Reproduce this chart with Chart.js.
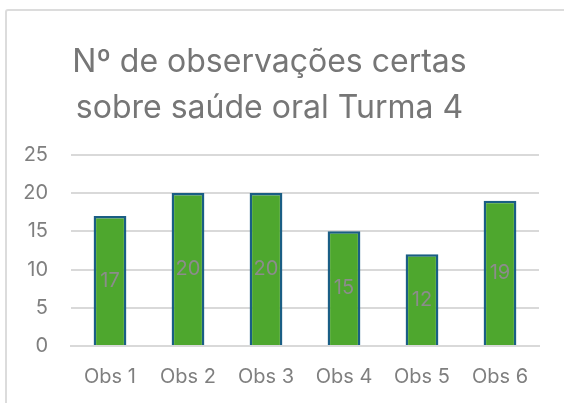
<!DOCTYPE html>
<html>
<head>
<meta charset="utf-8">
<script src="https://cdn.jsdelivr.net/npm/chart.js@4"></script>
<style>
    body { margin: 0; background: #fff; }
    #wrap { position: relative; width: 564px; height: 403px; overflow: hidden; }
    #frame { position: absolute; left: 5px; top: 9px; width: 600px; height: 440px; border: 2px solid #dcdcdc; border-radius: 3px; }
    #chart { position: absolute; left: 0; top: 0; }
</style>
</head>
<body>
<div id="wrap">
    <div id="frame"></div>
    <canvas id="chart" width="564" height="403"></canvas>
</div>
<script>
// chart data
const titleLines = ['Nº de observações certas', 'sobre saúde oral Turma 4'];
const categories = ['Obs 1', 'Obs 2', 'Obs 3', 'Obs 4', 'Obs 5', 'Obs 6'];
const values = [17, 20, 20, 15, 12, 19];
const yTicks = [0, 5, 10, 15, 20, 25];

const fontFamily = 'Inter, "Open Sans", sans-serif';

// draws the value in the middle of each bar
const barLabels = {
    id: 'barLabels',
    afterDatasetsDraw(chart) {
        let ctx = chart.ctx;
        let meta = chart.getDatasetMeta(0);
        ctx.save();
        ctx.font = '20px ' + fontFamily;
        ctx.fillStyle = '#8c8c8c';
        ctx.textAlign = 'center';
        ctx.textBaseline = 'middle';
        meta.data.forEach((bar, i) => {
            let mid = (bar.y + bar.base) / 2;
            ctx.fillText(values[i], bar.x, mid);
        });
        ctx.restore();
    }
};

new Chart(document.getElementById('chart'), {
    type: 'bar',
    data: {
        labels: categories,
        datasets: [{
            data: values,
            backgroundColor: '#4ea72e',
            borderColor: '#1a5e84',
            borderWidth: 2.5,
            barPercentage: 0.42,
            categoryPercentage: 1
        }]
    },
    options: {
        responsive: false,
        animation: false,
        layout: {
            padding: {left: 0, right: 25, top: 0, bottom: 0}
        },
        plugins: {
            legend: {display: false},
            tooltip: {enabled: false},
            title: {
                display: true,
                text: titleLines,
                color: '#767676',
                font: {family: fontFamily, size: 32, weight: 'normal', lineHeight: 1.45},
                padding: {top: 39, bottom: 23}
            }
        },
        scales: {
            x: {
                afterFit(scale) {
                    scale.height = 57;
                },
                grid: {display: false, drawTicks: false},
                border: {color: '#d9d9d9', width: 2},
                ticks: {color: '#7f7f7f', font: {family: fontFamily, size: 20}, padding: 19}
            },
            y: {
                min: 0,
                max: 25,
                afterBuildTicks(scale) {
                    scale.ticks = yTicks.map(v => ({value: v}));
                },
                afterFit(scale) {
                    scale.width = 71;
                },
                grid: {color: '#d9d9d9', lineWidth: 2, drawTicks: false},
                border: {display: false},
                ticks: {color: '#7f7f7f', font: {family: fontFamily, size: 20}, padding: 23}
            }
        }
    },
    plugins: [barLabels]
});
</script>
</body>
</html>
